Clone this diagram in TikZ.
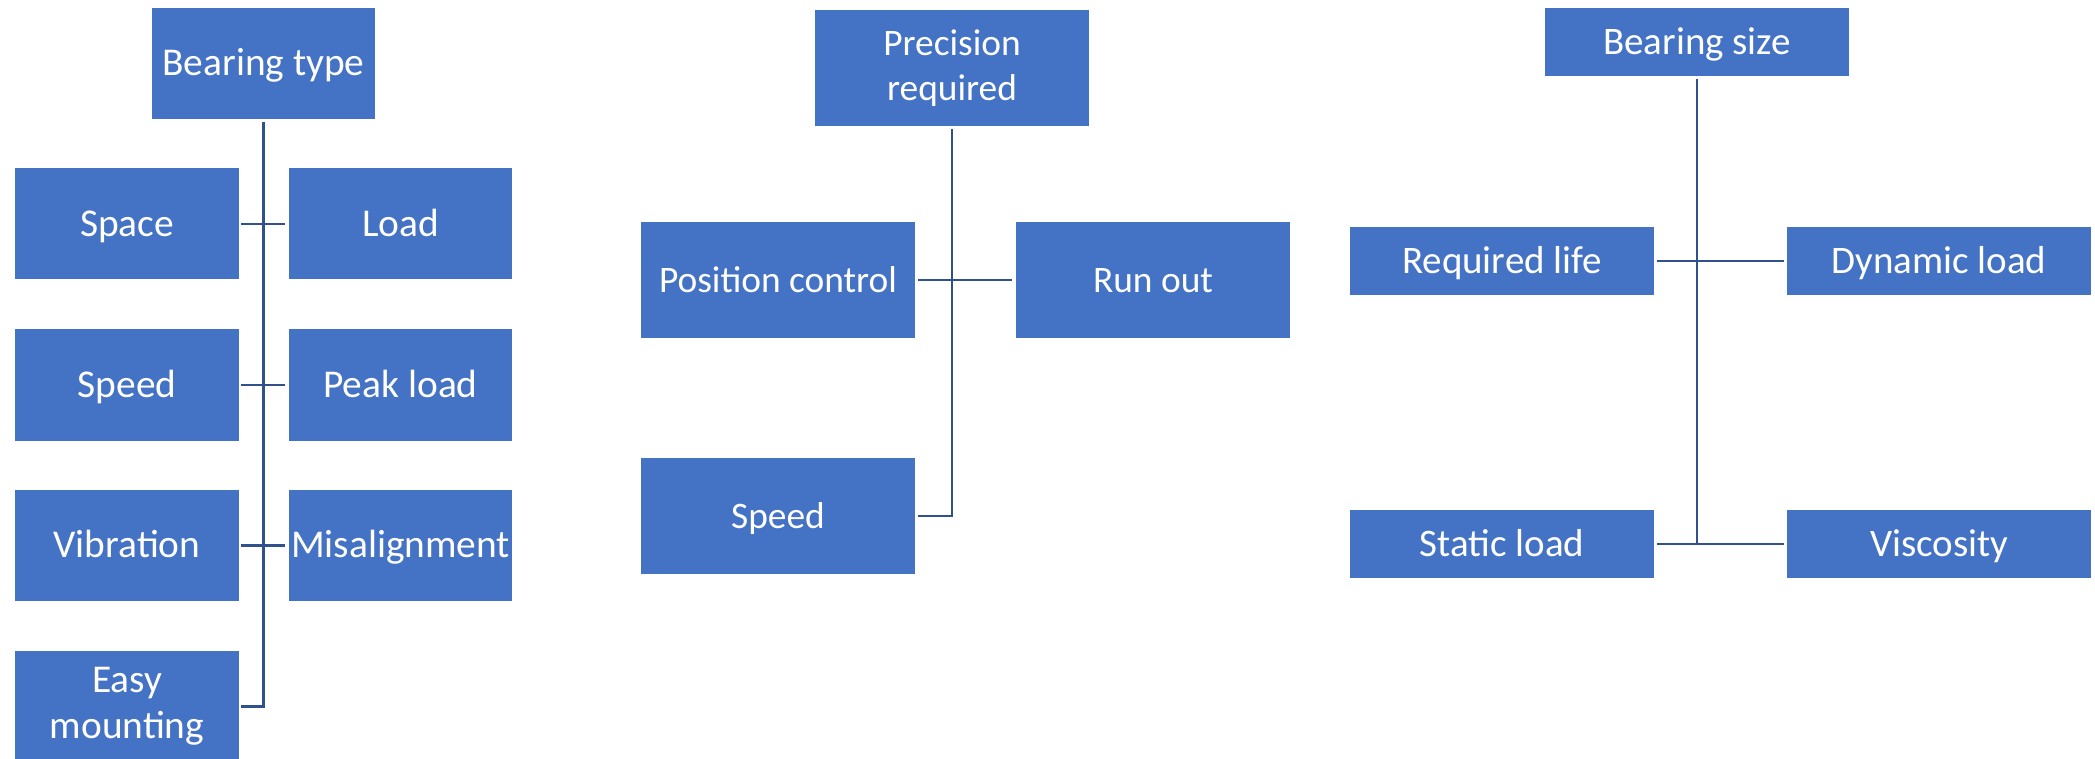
\documentclass[tikz,border=0pt]{standalone}
\usepackage{fontspec}
\setmainfont{Carlito}
\definecolor{boxblue}{HTML}{4472C4}
\definecolor{linkblue}{HTML}{2F528F}
\tikzset{
  item/.style={fill=boxblue, text=white, inner sep=0pt, align=center},
  oneline/.style={text height=14.5pt, text depth=2.4pt},
  itemL/.style={item, minimum width=111.75pt, minimum height=55.5pt,
    font=\fontsize{19.7}{23}\selectfont},
  itemM/.style={item, minimum width=137.25pt, minimum height=57.75pt,
    font=\fontsize{18.7}{22.2}\selectfont},
  itemR/.style={item, minimum width=152pt, minimum height=33.75pt,
    font=\fontsize{19.5}{22}\selectfont},
  link/.style={draw=linkblue, line width=1.3pt},
}
\begin{document}
\begin{tikzpicture}[x=0.5pt, y=-0.5pt]
  \useasboundingbox (0,0) rectangle (2095,759);
  \clip (0,0) rectangle (2095,759);

  % Bearing type
  \node[itemL, oneline] (bt)    at (263.5,63.5) {Bearing type};
  \node[itemL, oneline] (space) at (127,224)    {Space};
  \node[itemL, oneline] (load)  at (400.5,224)  {Load};
  \node[itemL, oneline] (spdA)  at (127,385)    {Speed};
  \node[itemL, oneline] (peak)  at (400.5,385)  {Peak load};
  \node[itemL, oneline] (vib)   at (127,545.5)  {Vibration};
  \node[itemL, oneline] (mis)   at (400.5,545.5){Misalignment};
  \node[itemL] (easy)  at (127,706.5)  {Easy\\mounting};

  \draw[link, shorten <=1.5pt, shorten >=1pt] (bt) -- (bt |- easy.east) -- (easy);
  \draw[link, shorten <=1pt, shorten >=1.5pt] (space) -- (load);
  \draw[link, shorten <=1pt, shorten >=1.5pt] (spdA) -- (peak);
  \draw[link, shorten <=1pt, shorten >=1.5pt] (vib) -- (mis);

  % Precision required
  \node[itemM] (pr)  at (952,68) {Precision\\required};
  \node[itemM, oneline] (pc)  at (778,280)  {Position control};
  \node[itemM, oneline] (ro)  at (1153,280) {Run out};
  \node[itemM, oneline] (spdB) at (778,516) {Speed};

  \draw[link, shorten <=1.5pt, shorten >=1.2pt] (pr) -- (pr |- spdB.east) -- (spdB);
  \draw[link, shorten <=1.2pt, shorten >=1.5pt] (pc) -- (ro);

  % Bearing size
  \node[itemR, oneline] (bs)  at (1697,42)  {Bearing size};
  \node[itemR, oneline] (rl)  at (1502,261) {Required life};
  \node[itemR, oneline] (dl)  at (1939,261) {Dynamic load};
  \node[itemR, oneline] (sl)  at (1502,544) {Static load};
  \node[itemR, oneline] (vis) at (1939,544) {Viscosity};

  \draw[link, shorten <=1.4pt] (bs) -- (bs |- sl.east);
  \draw[link, shorten <=1.5pt, shorten >=1.5pt] (rl) -- (dl);
  \draw[link, shorten <=1.5pt, shorten >=1.5pt] (sl) -- (vis);
\end{tikzpicture}
\end{document}
